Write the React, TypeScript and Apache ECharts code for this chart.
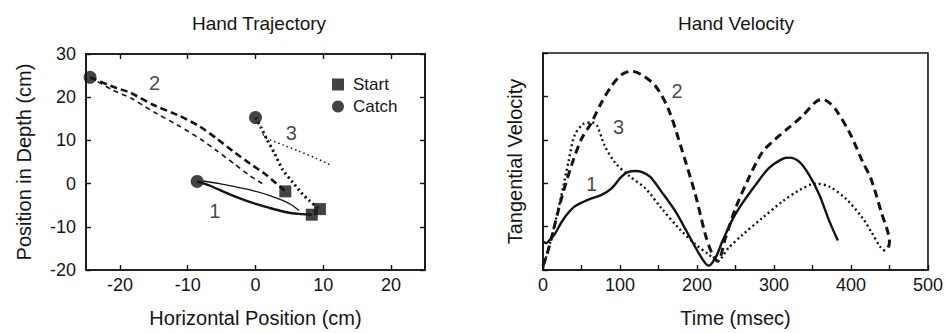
import React, { useEffect, useRef } from "react";
import * as echarts from "echarts";

// ---------- Left panel: Hand Trajectory (cm) ----------
const TRAJ_X_TICKS = [-20, -10, 0, 10, 20];
const TRAJ1_MAIN = [[-8.6, 0.5], [-6.7, -0.5], [-3.8, -2.5], [-2, -3.6], [0, -4.7], [2, -5.6], [3.9, -6.4], [5.2, -6.8], [6.4, -7.0], [8.3, -7.2]];
const TRAJ1_THIN = [[-7.7, 0.6], [-5.3, 0], [-2.8, -0.8], [-0.4, -1.6], [2, -2.7], [4, -3.9], [5.4, -5], [6.4, -6.2]];
const TRAJ2_MAIN = [[-24.4, 24.6], [-21, 22.4], [-18.4, 21.0], [-15.2, 18.3], [-11.1, 15.6], [-8.2, 13.2], [-5.7, 10.4], [-3.4, 7.6], [-0.8, 4.6], [1.6, 2.0], [4.4, -1.8]];
const TRAJ2_THIN = [[-24.4, 24.6], [-21, 21.6], [-18.4, 19.8], [-15, 16.6], [-11.1, 13.2], [-8, 10.2], [-5.7, 7.6], [-3, 4.4], [-0.8, 1.8], [0.8, 0.2], [1.5, -0.4]];
const TRAJ3_MAIN = [[0, 15.3], [0.8, 13], [1.6, 10.5], [2.8, 7], [4, 3.2], [5.5, 0.3], [6.8, -2.2], [7.9, -3.9], [9.5, -6]];
const TRAJ3_THIN = [[1.1, 11.4], [1.6, 10.5], [4, 9], [6.4, 7.5], [8.9, 5.9], [10.4, 4.8], [11.3, 4.1]];
const START_POINTS = [[4.4, -1.8], [8.3, -7.2], [9.5, -5.9]];
const CATCH_POINTS = [[-8.6, 0.5], [-24.4, 24.6], [0, 15.3]];
const TRAJ_LABEL_NAMES = ["1", "2", "3"];
const TRAJ_LABEL_POS = [[-6, -6.3], [-14.9, 23.4], [5.3, 11.6]];

// ---------- Right panel: Hand Velocity ----------
const VEL1 = [[0, 0.66], [4, 0.62], [10, 0.72], [15, 0.82], [24, 1.1], [32, 1.3], [40, 1.45], [50, 1.55], [63, 1.65], [76, 1.73], [89, 1.88], [102, 2.15], [111, 2.26], [120, 2.28], [128, 2.26], [139, 2.15], [154, 1.8], [172, 1.35], [189, 0.81], [206, 0.28], [215, 0.1], [224, 0.28], [233, 0.66], [246, 1.16], [259, 1.54], [276, 1.96], [293, 2.34], [311, 2.56], [320, 2.59], [333, 2.49], [346, 2.18], [359, 1.73], [372, 1.12], [383, 0.68]];
const VEL2 = [[0, 0.1], [5, 0.35], [11, 0.74], [24, 1.65], [37, 2.41], [50, 3.02], [63, 3.4], [76, 3.86], [89, 4.24], [102, 4.5], [115, 4.58], [128, 4.5], [146, 4.24], [163, 3.7], [180, 2.79], [198, 1.73], [211, 0.81], [220, 0.36], [227, 0.2], [237, 0.74], [250, 1.42], [267, 2.11], [285, 2.72], [302, 3.02], [320, 3.29], [337, 3.55], [354, 3.87], [362, 3.93], [370, 3.88], [380, 3.7], [398, 3.17], [415, 2.5], [426, 2.1], [439, 1.35], [450, 0.64], [447, 0.45]];
const VEL3 = [[0, 0.05], [11, 0.74], [24, 1.73], [33, 2.49], [41, 3.1], [52, 3.36], [63, 3.4], [70, 3.33], [80, 2.87], [93, 2.49], [111, 2.18], [133, 1.88], [154, 1.42], [176, 0.97], [198, 0.59], [215, 0.36], [226, 0.2], [241, 0.51], [259, 0.81], [285, 1.2], [311, 1.58], [333, 1.84], [354, 1.99], [372, 1.92], [393, 1.65], [415, 1.2], [426, 0.89], [439, 0.51], [446, 0.42]];
const VEL_LABEL_NAMES = ["1", "2", "3"];
const VEL_LABEL_POS = [[63, 1.99], [174, 4.12], [98, 3.29]];

const FONT = "Liberation Sans, Arial, Helvetica, sans-serif";
const INK = "#141414";

export default function App() {
  const ref = useRef<HTMLDivElement>(null);

  useEffect(() => {
    document.body.style.margin = "0";
    if (!ref.current) return;
    const chart = echarts.init(ref.current, null, { renderer: "svg" });

    const axisLine = { show: true, onZero: false, lineStyle: { color: INK, width: 1.6 } };
    const tickStyle = { color: INK, width: 1.4 };
    const labelStyle = { color: INK, fontSize: 18, fontFamily: FONT };
    const nameStyle = { color: INK, fontSize: 20, fontFamily: FONT };

    const line = (name: string, xi: number, yi: number, data: number[][], width: number, type: any, smooth = 0.3) => ({
      name,
      type: "line",
      xAxisIndex: xi,
      yAxisIndex: yi,
      data,
      showSymbol: false,
      symbol: "none",
      smooth,
      lineStyle: { color: INK, width, type },
      z: 3,
    });

    const labelSeries = (xi: number, yi: number, names: string[], pos: number[][]) => ({
      type: "scatter",
      xAxisIndex: xi,
      yAxisIndex: yi,
      symbolSize: 1,
      itemStyle: { color: "rgba(0,0,0,0)" },
      data: names.map((n, i) => ({ name: n, value: pos[i] })),
      label: {
        show: true,
        position: "inside",
        formatter: "{b}",
        color: INK,
        fontSize: 20,
        fontFamily: FONT,
      },
      z: 5,
      silent: true,
    });

    chart.setOption({
      animation: false,
      backgroundColor: "#ffffff",
      textStyle: { fontFamily: FONT },
      graphic: [
        { type: "text", x: 259, y: 23, style: { text: "Hand Trajectory", font: `19px ${FONT}`, fill: INK, textAlign: "center", textVerticalAlign: "middle" } },
        { type: "text", x: 736, y: 23, style: { text: "Hand Velocity", font: `19px ${FONT}`, fill: INK, textAlign: "center", textVerticalAlign: "middle" } },
      ],
      legend: {
        data: ["Start", "Catch"],
        orient: "vertical",
        left: 327,
        top: 71,
        itemWidth: 12,
        itemHeight: 12,
        itemGap: 5,
        textStyle: { color: INK, fontSize: 17, fontFamily: FONT, padding: [0, 0, 0, 4] },
      },
      grid: [
        { left: 86, top: 54, width: 339, height: 219, show: true, borderColor: INK, borderWidth: 1.6, containLabel: false },
        { left: 543, top: 53, width: 390, height: 219, show: true, borderColor: INK, borderWidth: 1.6, containLabel: false },
      ],
      xAxis: [
        {
          gridIndex: 0, type: "value", min: -25, max: 25, position: "bottom",
          name: "Horizontal Position (cm)", nameLocation: "middle", nameGap: 38, nameTextStyle: nameStyle,
          axisLine, splitLine: { show: false },
          axisTick: { show: true, inside: true, length: 5, lineStyle: tickStyle, customValues: TRAJ_X_TICKS },
          axisLabel: { ...labelStyle, margin: 6, customValues: TRAJ_X_TICKS },
        },
        {
          gridIndex: 0, type: "value", min: -25, max: 25, position: "top",
          axisLine, splitLine: { show: false },
          axisTick: { show: true, inside: true, length: 5, lineStyle: tickStyle, customValues: TRAJ_X_TICKS },
          axisLabel: { show: false },
        },
        {
          gridIndex: 1, type: "value", min: 0, max: 500, interval: 50, position: "bottom",
          name: "Time (msec)", nameLocation: "middle", nameGap: 38, nameTextStyle: nameStyle,
          axisLine, splitLine: { show: false },
          axisTick: { show: true, inside: true, length: 5, lineStyle: tickStyle },
          axisLabel: { ...labelStyle, margin: 6, showMinLabel: true, showMaxLabel: true, formatter: (v: number) => (v % 100 === 0 ? String(v) : "") },
        },
      ],
      yAxis: [
        {
          gridIndex: 0, type: "value", min: -20, max: 30, interval: 10, position: "left",
          name: "Position in Depth (cm)", nameLocation: "middle", nameGap: 52, nameTextStyle: nameStyle,
          axisLine, splitLine: { show: false },
          axisTick: { show: true, inside: true, length: 5, lineStyle: tickStyle },
          axisLabel: { ...labelStyle, margin: 10 },
        },
        {
          gridIndex: 0, type: "value", min: -20, max: 30, interval: 10, position: "right",
          axisLine, splitLine: { show: false },
          axisTick: { show: true, inside: true, length: 5, lineStyle: tickStyle },
          axisLabel: { show: false },
        },
        {
          gridIndex: 1, type: "value", min: 0, max: 5, interval: 1, position: "left",
          name: "Tangential Velocity", nameLocation: "middle", nameGap: 18, nameTextStyle: nameStyle,
          axisLine, splitLine: { show: false },
          axisTick: { show: true, inside: true, length: 5, lineStyle: tickStyle },
          axisLabel: { show: false },
        },
      ],
      series: [
        line("traj1", 0, 0, TRAJ1_MAIN, 2.4, "solid", 0.3),
        line("traj1b", 0, 0, TRAJ1_THIN, 1.3, "solid", 0.2),
        line("traj2", 0, 0, TRAJ2_MAIN, 2.6, [7, 4], 0.2),
        line("traj2b", 0, 0, TRAJ2_THIN, 1.6, [5, 4], 0.2),
        line("traj3", 0, 0, TRAJ3_MAIN, 3, [2.2, 3], 0.2),
        line("traj3b", 0, 0, TRAJ3_THIN, 1.5, [1.5, 3], 0.2),
        {
          name: "Start", type: "scatter", xAxisIndex: 0, yAxisIndex: 0, data: START_POINTS,
          symbol: "rect", symbolSize: 12, itemStyle: { color: INK }, z: 6,
        },
        {
          name: "Catch", type: "scatter", xAxisIndex: 0, yAxisIndex: 0, data: CATCH_POINTS,
          symbol: "circle", symbolSize: 13, itemStyle: { color: INK }, z: 6,
        },
        labelSeries(0, 0, TRAJ_LABEL_NAMES, TRAJ_LABEL_POS),
        line("vel1", 2, 2, VEL1, 2.4, "solid", 0.3),
        line("vel2", 2, 2, VEL2, 3, [8, 5], 0.3),
        line("vel3", 2, 2, VEL3, 2.4, [2, 3], 0.3),
        labelSeries(2, 2, VEL_LABEL_NAMES, VEL_LABEL_POS),
      ],
    });

    return () => chart.dispose();
  }, []);

  return <div ref={ref} style={{ width: 946, height: 333 }} />;
}
